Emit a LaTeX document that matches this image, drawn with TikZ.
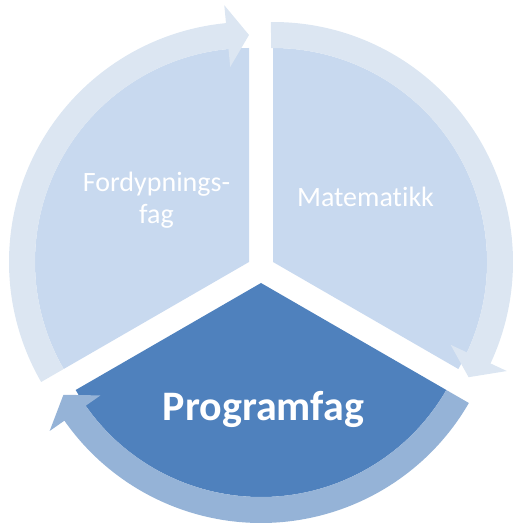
\documentclass[tikz,border=0pt]{standalone}
\usepackage{fontspec}
\setmainfont{Carlito}[Ligatures=NoCommon]
\definecolor{seclight}{RGB}{200,217,239}
\definecolor{arrlight}{RGB}{220,230,242}
\definecolor{secdark}{RGB}{79,129,189}
\definecolor{arrdark}{RGB}{149,179,215}
\newcommand{\cyclearrow}[3]{% color, tail angle, tip angle (clockwise)
  \fill[#1] (#2:240pt) arc[start angle=#2, end angle=#3+5.5, radius=240pt]
    -- (#3+5.5:258pt) -- (#3:227pt) -- (#3+5.5:196pt) -- (#3+5.5:214pt)
    arc[start angle=#3+5.5, end angle=#2, radius=214pt] -- cycle;}
\tikzset{
  lbl/.style={text=white, inner sep=0pt, anchor=base, align=center,
    font=\fontsize{28}{32}\selectfont},
  mainlbl/.style={text=white, inner sep=0pt, anchor=base,
    font=\fontsize{42}{48}\selectfont\bfseries}
}
\begin{document}
\begin{tikzpicture}[x=1pt,y=1pt]
\useasboundingbox (0,0) rectangle (513,525);
% sectors
\begin{scope}[shift={(249,263)}]
  \fill[seclight] (0,0) -- (90:214pt) arc[start angle=90, end angle=210, radius=214pt] -- cycle;
\end{scope}
\begin{scope}[shift={(273,263)}]
  \fill[seclight] (0,0) -- (-30:214pt) arc[start angle=-30, end angle=90, radius=214pt] -- cycle;
\end{scope}
\begin{scope}[shift={(261,242)}]
  \fill[secdark] (0,0) -- (210:214pt) arc[start angle=210, end angle=330, radius=214pt] -- cycle;
\end{scope}
% arrows
\begin{scope}[shift={(249,263)}]
  \cyclearrow{arrlight}{210}{90}
\end{scope}
\begin{scope}[shift={(273,263)}]
  \cyclearrow{arrlight}{90.5}{-30.5}
\end{scope}
\begin{scope}[shift={(261,242)}]
  \cyclearrow{arrdark}{330}{209.5}
\end{scope}
% labels
\node[lbl] (ford) at (156.5,301) {Fordypnings-\\fag};
\node[lbl] (mat) at (365.5,318) {Matematikk};
\node[mainlbl] (prog) at (263.5,104) {Programfag};
\end{tikzpicture}
\end{document}
